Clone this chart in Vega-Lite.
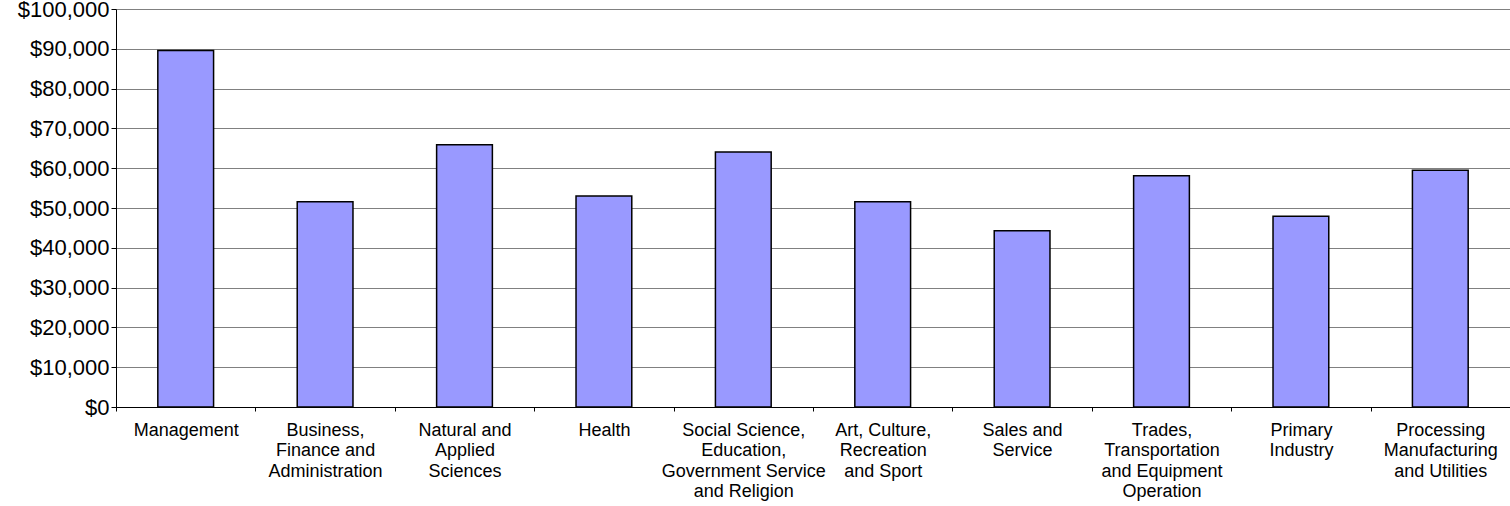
{
  "$schema": "https://vega.github.io/schema/vega-lite/v6.json",
  "width": 1394,
  "height": 398,
  "autosize": {"type": "none"},
  "padding": {"left": 116, "top": 9, "right": 0, "bottom": 99},
  "background": "white",
  "data": {
    "values": [
      {"Occupation": "Management", "Income": 89600},
      {"Occupation": "Business,|Finance and|Administration", "Income": 51600},
      {"Occupation": "Natural and|Applied|Sciences", "Income": 65900},
      {"Occupation": "Health", "Income": 53000},
      {"Occupation": "Social Science,|Education,|Government Service|and Religion", "Income": 64100},
      {"Occupation": "Art, Culture,|Recreation|and Sport", "Income": 51600},
      {"Occupation": "Sales and|Service", "Income": 44300},
      {"Occupation": "Trades,|Transportation|and Equipment|Operation", "Income": 58100},
      {"Occupation": "Primary|Industry", "Income": 47900},
      {"Occupation": "Processing|Manufacturing|and Utilities", "Income": 59500}
    ]
  },
  "mark": {
    "type": "bar",
    "width": {"band": 0.4},
    "fill": "#9999FF",
    "stroke": "#000000",
    "strokeWidth": 1.5
  },
  "encoding": {
    "x": {
      "field": "Occupation",
      "type": "nominal",
      "sort": null,
      "title": null,
      "scale": {"paddingInner": 0, "paddingOuter": 0},
      "axis": {
        "labelAngle": 0,
        "labelExpr": "isValid(datum.value) ? split(datum.value, '|') : ''",
        "labelFont": "Liberation Sans",
        "labelFontSize": 18,
        "labelLineHeight": 20.5,
        "labelColor": "#000000",
        "labelPadding": 10,
        "labelLimit": 200,
        "tickBand": "extent",
        "tickSize": 4,
        "tickColor": "#000000",
        "domainColor": "#000000",
        "grid": false
      }
    },
    "y": {
      "field": "Income",
      "type": "quantitative",
      "title": null,
      "scale": {"domain": [0, 100000], "nice": false},
      "axis": {
        "values": [0, 10000, 20000, 30000, 40000, 50000, 60000, 70000, 80000, 90000, 100000],
        "format": "$,.0f",
        "labelFont": "Liberation Sans",
        "labelFontSize": 22,
        "labelColor": "#000000",
        "labelPadding": 2,
        "tickSize": 5,
        "tickColor": "#000000",
        "domainColor": "#000000",
        "grid": true,
        "gridColor": "#808080",
        "gridWidth": 1
      }
    }
  },
  "config": {
    "view": {"stroke": null}
  }
}
